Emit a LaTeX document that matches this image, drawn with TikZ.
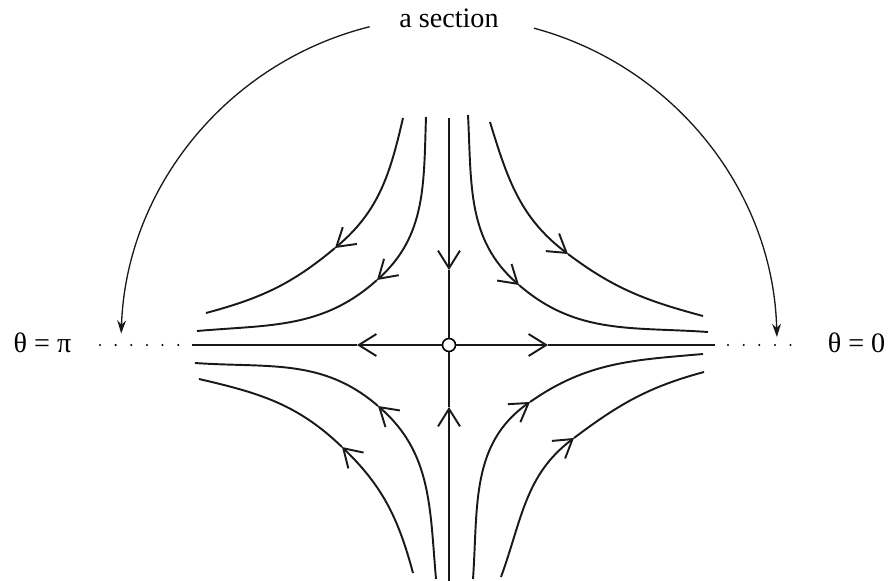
\documentclass[tikz,border=0pt]{standalone}
\usepackage{fontspec}
\setmainfont{Liberation Serif}
\usetikzlibrary{arrows.meta}

\begin{document}
\begin{tikzpicture}[
  font=\fontsize{16}{19}\selectfont,
  traj/.style={line width=1.1pt, draw=black!90},
  flow/.style={traj, -{Straight Barb[length=10pt, width=12.5pt]}},
  sec/.style={line width=0.75pt, draw=black!90, -{Stealth[length=7.5pt, width=5pt]}},
  dots/.style={line width=1.3pt, line cap=round, dash pattern=on 0pt off 8.9pt},
  lbl/.style={anchor=base, inner sep=0pt},
]
\useasboundingbox (-8.98,-4.7) rectangle (8.84,6.9);

% --- saddle point and axes ---
\node[circle, draw, fill=white, line width=0.9pt, inner sep=0pt, minimum size=0.26cm] (o) at (0,0) {};
\coordinate (west)  at (-5.14,0);
\coordinate (east)  at (5.32,0);
\coordinate (north) at (0,4.54);
\coordinate (south) at (0,-4.72);

\draw[flow] (o) -- (-1.84,0);  \draw[traj] (-1.84,0) -- (west);
\draw[flow] (o) -- (1.98,0);   \draw[traj] (1.98,0) -- (east);
\draw[flow] (north) -- (0,1.5);   \draw[traj] (0,1.5) -- (o);
\draw[flow] (south) -- (0,-1.24); \draw[traj] (0,-1.24) -- (o);

\draw[dots] (-6.98,0) -- (-5.35,0);
\draw[dots] (5.58,0) -- (6.95,0);

% --- upper left ---
\draw[flow] (-0.92,4.54) to[out=257, in=40] (-2.28,1.94);
\draw[traj] (-2.28,1.94) to[out=220, in=15] (-4.86,0.64);
\draw[flow] (-0.46,4.56) to[out=268, in=42] (-1.44,1.30);
\draw[traj] (-1.44,1.30) to[out=222, in=5] (-5.04,0.28);

% --- upper right ---
\draw[flow] (0.82,4.46) to[out=-73, in=143] (2.38,1.82);
\draw[traj] (2.38,1.82) to[out=-37, in=165] (5.08,0.58);
\draw[flow] (0.38,4.60) to[out=-87, in=139] (1.40,1.20);
\draw[traj] (1.40,1.20) to[out=-41, in=176] (5.18,0.26);

% --- lower left ---
\draw[flow] (-0.26,-4.68) to[out=95, in=-41] (-1.42,-1.22);
\draw[traj] (-1.42,-1.22) to[out=139, in=-4] (-5.08,-0.36);
\draw[flow] (-0.72,-4.56) to[out=105, in=-44] (-2.14,-2.04);
\draw[traj] (-2.14,-2.04) to[out=136, in=-13] (-5.0,-0.68);

% --- lower right ---
\draw[flow] (0.48,-4.68) to[out=86, in=215] (1.62,-1.14);
\draw[traj] (1.62,-1.14) to[out=35, in=185] (5.08,-0.18);
\draw[flow] (1.04,-4.64) to[out=70, in=217] (2.50,-1.86);
\draw[traj] (2.50,-1.86) to[out=37, in=195] (5.10,-0.54);

% --- labels and section arcs ---
\node[lbl] (sect) at (0,6.34)     {a section};
\node[lbl] (tpi)  at (-8.13,-0.15) {θ = π};
\node[lbl] (tzero) at (8.15,-0.15) {θ = 0};

\draw[sec] (104:6.56) arc[start angle=104, end angle=178, radius=6.56];
\draw[sec] (75:6.56)  arc[start angle=75, end angle=1.4, radius=6.56];
\end{tikzpicture}
\end{document}
